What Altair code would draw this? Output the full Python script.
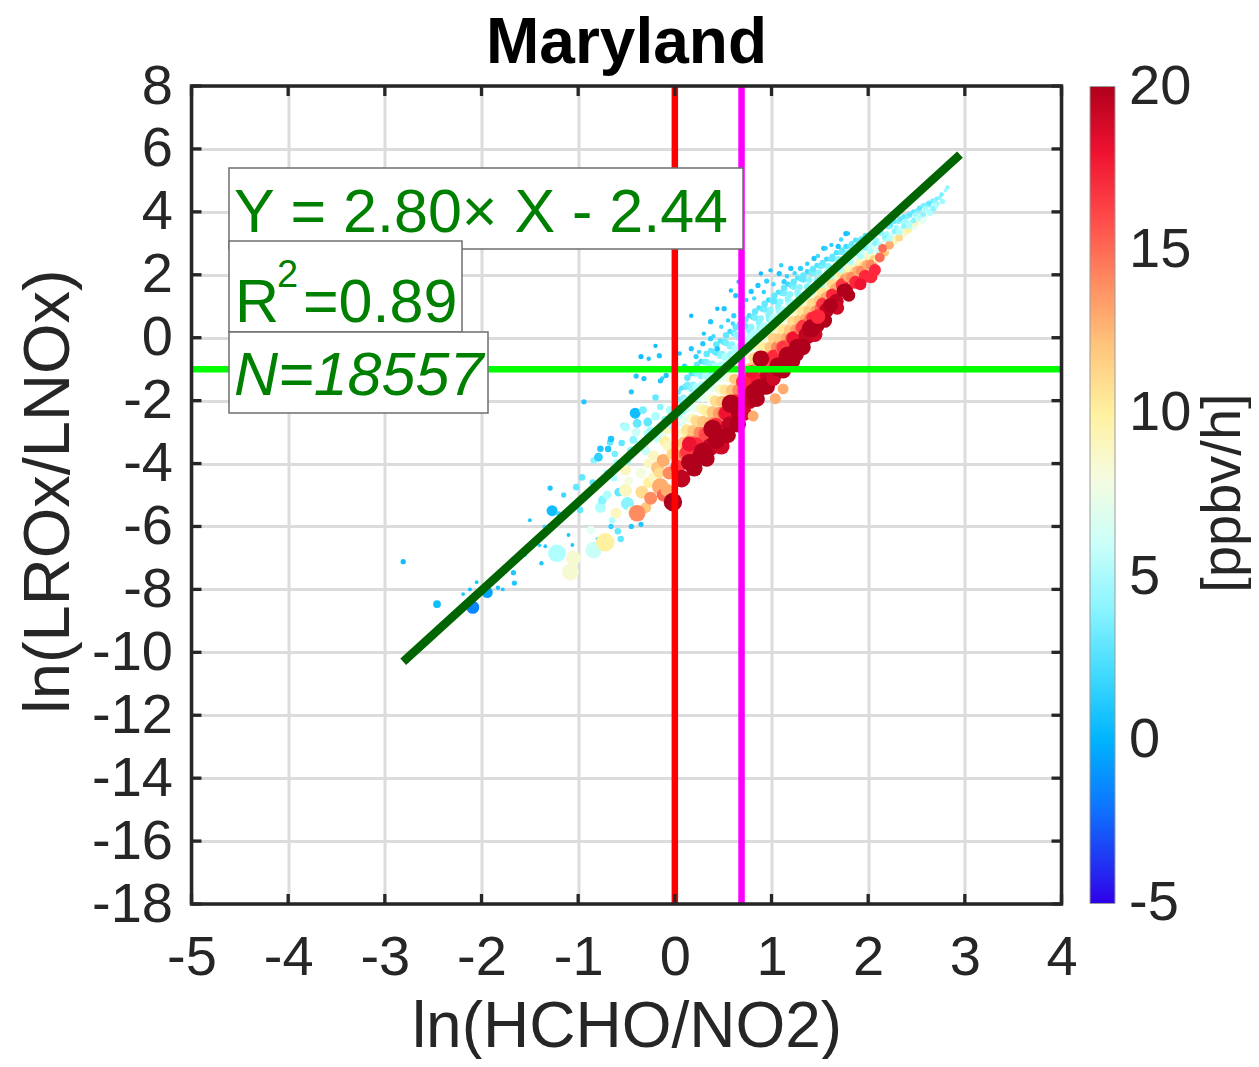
import altair as alt
import pandas as pd

FONT = "Liberation Sans"
INK = "#262626"
TXT_GREEN = "#008000"

# ---- data: (ln(HCHO/NO2), ln(LROx/LNOx), rate [ppbv/h], marker weight)
far_left = [
    (-2.81, -7.12, 0.5, 1.5), (-2.46, -8.47, 0.5, 2.5), (-2.19, -8.15, 1.0, 1.0),
    (-2.12, -8.00, 0.5, 1.0), (-2.09, -8.57, -1.5, 5.0), (-2.05, -7.77, 1.0, 1.0),
    (-1.94, -8.10, -0.5, 4.0), (-1.83, -7.95, 1.0, 1.2), (-1.78, -8.00, 1.0, 1.0),
    (-1.72, -7.20, 1.0, 1.0), (-1.67, -7.47, 1.0, 1.5), (-1.66, -7.80, 1.0, 1.5),
    (-1.55, -6.90, 1.0, 1.0), (-1.40, -6.60, 1.5, 1.0), (-1.38, -7.17, 1.0, 1.2),
    (-1.34, -6.63, 1.0, 1.0), (-1.50, -5.80, 1.0, 1.0),
]

left_cloud = [
    (-1.29, -4.78, 1.0, 1.5), (-1.27, -5.50, 0.5, 4.0), (-1.22, -6.85, 5.0, 7.5),
    (-1.15, -5.00, 2.0, 1.5), (-1.20, -5.60, 2.0, 1.5), (-1.35, -6.00, 2.0, 1.0),
    (-1.10, -6.27, 1.0, 1.0), (-1.06, -6.59, 1.0, 1.0), (-1.05, -7.00, 8.5, 6.0),
    (-1.08, -7.45, 8.5, 7.0), (-1.02, -4.75, 3.0, 2.0), (-0.98, -5.48, 3.0, 2.0),
    (-0.96, -4.44, 3.0, 2.0), (-0.94, -2.04, 1.0, 1.5), (-0.90, -5.00, 4.0, 2.0),
    (-0.87, -6.12, 7.0, 3.0), (-0.85, -4.60, 3.0, 2.0), (-0.84, -6.75, 6.0, 7.0),
    (-0.84, -3.90, 4.0, 2.0), (-0.80, -6.40, 2.0, 1.0), (-0.79, -3.80, 1.5, 3.0),
    (-0.77, -3.53, 1.0, 2.0), (-0.77, -5.39, 5.0, 4.0), (-0.75, -5.16, 4.0, 3.0),
    (-0.72, -6.50, 10.0, 8.0), (-0.70, -4.30, 4.0, 2.0), (-0.70, -5.00, 5.0, 3.0),
    (-0.69, -3.54, 1.0, 2.0), (-0.67, -3.33, 3.0, 2.0), (-0.66, -3.22, 1.0, 2.0),
    (-0.66, -6.00, 1.5, 1.5), (-0.65, -5.80, 5.0, 2.0), (-0.63, -4.47, 5.0, 2.0),
    (-0.61, -5.58, 9.0, 4.0), (-0.62, -3.70, 3.5, 2.0), (-0.60, -4.00, 5.0, 3.0),
    (-0.59, -6.15, 3.0, 2.0), (-0.58, -4.91, 3.0, 3.0), (-0.56, -6.40, 3.0, 2.0),
    (-0.55, -3.35, 3.0, 2.0), (-0.53, -2.80, 4.0, 2.0), (-0.51, -2.84, 5.0, 3.0),
    (-0.51, -4.20, 9.0, 4.0), (-0.51, -4.85, 9.0, 5.0), (-0.50, -3.90, 4.0, 3.0),
    (-0.49, -5.27, 4.0, 5.0), (-0.48, -4.55, 8.0, 3.0), (-0.45, -3.60, 4.0, 3.0),
    (-0.45, -5.50, 8.0, 3.0), (-0.45, -6.00, 1.0, 1.5), (-0.43, -3.25, 4.0, 2.5),
    (-0.41, -2.40, 0.5, 4.0), (-0.40, -3.00, 6.0, 3.0), (-0.39, -2.72, 3.0, 3.0),
    (-0.36, -3.42, 5.0, 3.0), (-0.35, -4.30, 8.0, 4.0), (-0.35, -5.93, 1.0, 1.5),
    (-0.34, -4.91, 11.0, 5.0), (-0.33, -2.30, 3.5, 2.5), (-0.30, -3.60, 6.0, 3.0),
    (-0.30, -5.40, 12.0, 4.0), (-0.28, -2.68, 3.0, 3.0), (-0.28, -3.04, 5.0, 3.0),
    (-0.28, -4.00, 9.0, 3.0), (-0.27, -4.60, 10.0, 4.0), (-0.25, -2.95, 4.5, 2.5),
    (-0.25, -5.10, 14.0, 5.0), (-0.22, -3.76, 9.0, 4.0), (-0.22, -4.45, 9.0, 4.0),
    (-0.20, -2.50, 5.0, 3.0), (-0.20, -1.90, 3.0, 2.0), (-0.18, -3.20, 6.0, 3.0),
    (-0.18, -4.13, 12.0, 5.0), (-0.16, -4.30, 11.0, 4.0), (-0.15, -2.20, 4.0, 2.0),
    (-0.15, -4.73, 13.0, 7.0), (-0.12, -3.00, 7.0, 3.0), (-0.12, -3.90, 13.0, 5.0),
    (-0.12, -5.00, 15.0, 5.0), (-0.10, -2.60, 4.0, 2.5), (-0.10, -3.30, 10.0, 4.0),
    (-0.08, -4.85, 13.0, 5.0), (-0.07, -2.90, 9.0, 4.0), (-0.07, -3.44, 9.0, 4.0),
    (-0.06, -4.30, 14.0, 5.0), (-0.05, -2.30, 5.0, 3.0), (-0.04, -2.75, 6.0, 3.0),
    (-0.03, -3.70, 11.0, 4.0), (-0.39, -5.58, 14.0, 7.0), (-0.02, -5.22, 20.0, 8.0),
    (0.00, -1.94, 8.0, 3.0),
]

band_a = [
    (0.07, -1.60, 2.5, 1.5), (0.03, -1.96, 3.5, 2), (0.08, -2.32, 4.5, 2.5), (0.04, -2.68, 6, 3),
    (0.07, -3.04, 8.5, 3.5), (0.02, -3.40, 10.5, 4), (0.06, -3.76, 13, 5), (0.03, -4.12, 16.5, 6),
    (0.07, -4.48, 19.5, 7.5),
    (0.11, -1.56, 3, 2), (0.09, -1.91, 4, 2), (0.11, -2.27, 5, 2.5), (0.09, -2.62, 7, 3),
    (0.11, -2.98, 9.5, 3.5), (0.09, -3.34, 12, 4.5), (0.11, -3.70, 15, 5.5),
    (0.17, -1.15, 2.5, 1.5), (0.13, -1.50, 3.5, 2), (0.18, -1.86, 4.5, 2.5), (0.14, -2.21, 6, 3),
    (0.17, -2.57, 8.5, 3.5), (0.12, -2.92, 10.5, 4), (0.16, -3.27, 13, 5), (0.13, -3.63, 16.5, 6),
    (0.17, -3.98, 19.5, 7.5),
    (0.21, -1.13, 3, 2), (0.19, -1.50, 4, 2), (0.21, -1.87, 5, 2.5), (0.19, -2.23, 7, 3),
    (0.21, -2.60, 9.5, 3.5), (0.19, -2.96, 12, 4.5), (0.21, -3.33, 15, 5.5),
    (0.27, -0.75, 2, 1.5), (0.23, -1.13, 4, 2), (0.28, -1.51, 5, 2.5), (0.24, -1.88, 5.5, 3),
    (0.27, -2.26, 9, 3.5), (0.22, -2.64, 11, 4), (0.26, -3.02, 14, 5), (0.23, -3.40, 17, 6),
    (0.27, -3.77, 20, 7.5),
    (0.31, -0.77, 3, 2), (0.29, -1.15, 4, 2), (0.31, -1.53, 5, 2.5), (0.29, -1.91, 7, 3),
    (0.31, -2.29, 9.5, 3.5), (0.29, -2.67, 12, 4.5), (0.31, -3.05, 15, 5.5),
    (0.37, -0.40, 3, 1.5), (0.33, -0.78, 3.5, 2), (0.38, -1.17, 4, 2.5), (0.34, -1.55, 6.5, 3),
    (0.37, -1.94, 8, 3.5), (0.32, -2.32, 10, 4), (0.36, -2.70, 12.5, 5), (0.33, -3.09, 16, 6),
    (0.37, -3.47, 19.5, 7.5),
    (0.41, -0.44, 3, 2), (0.39, -0.83, 4, 2), (0.41, -1.21, 5, 2.5), (0.39, -1.59, 7, 3),
    (0.41, -1.98, 9.5, 3.5), (0.39, -2.36, 12, 4.5), (0.41, -2.75, 15, 5.5),
    (0.47, -0.10, 2.5, 1.5), (0.43, -0.48, 3, 2), (0.48, -0.87, 5, 2.5), (0.44, -1.25, 6, 3),
    (0.47, -1.64, 9, 3.5), (0.42, -2.02, 11, 4), (0.46, -2.40, 13.5, 5), (0.43, -2.79, 17, 6),
    (0.47, -3.17, 20, 7.5),
    (0.51, -0.14, 3, 2), (0.49, -0.52, 4, 2), (0.51, -0.90, 5, 2.5), (0.49, -1.27, 7, 3),
    (0.51, -1.65, 9.5, 3.5), (0.49, -2.03, 12, 4.5), (0.51, -2.41, 15, 5.5),
]

band_b = [
    (0.57, 0.20, 2, 1.5), (0.53, -0.17, 3.5, 2), (0.58, -0.54, 4.5, 2.5), (0.54, -0.92, 5.5, 3),
    (0.57, -1.29, 8.5, 3.5), (0.52, -1.66, 10.5, 4), (0.56, -2.03, 13, 5), (0.53, -2.40, 18, 6),
    (0.57, -2.78, 19.5, 7.5),
    (0.61, 0.14, 3, 2), (0.59, -0.22, 4, 2), (0.61, -0.58, 5, 2.5), (0.59, -0.95, 7, 3),
    (0.61, -1.31, 9.5, 3.5), (0.59, -1.67, 12, 4.5), (0.61, -2.03, 15, 5.5),
    (0.67, 0.45, 2.5, 1.5), (0.63, 0.10, 4, 2), (0.68, -0.26, 4.5, 2.5), (0.64, -0.61, 6.5, 3),
    (0.67, -0.97, 9, 3.5), (0.62, -1.32, 12, 4), (0.66, -1.67, 14, 5), (0.63, -2.03, 17, 6),
    (0.67, -2.38, 20, 7.5),
    (0.71, 0.40, 3, 2), (0.69, 0.06, 4, 2), (0.71, -0.29, 5, 2.5), (0.69, -0.63, 7, 3),
    (0.71, -0.98, 9.5, 3.5), (0.69, -1.32, 12, 4.5), (0.71, -1.67, 15, 5.5),
    (0.77, 0.70, 2, 1.5), (0.73, 0.36, 3, 2), (0.78, 0.03, 5, 2.5), (0.74, -0.31, 6, 3),
    (0.77, -0.64, 8, 3.5), (0.72, -0.98, 10.5, 4), (0.76, -1.32, 13, 5), (0.73, -1.65, 16.5, 6),
    (0.77, -1.99, 19.5, 7.5),
    (0.81, 0.66, 3, 2), (0.79, 0.34, 4, 2), (0.81, 0.01, 5, 2.5), (0.79, -0.32, 7, 3),
    (0.81, -0.65, 9.5, 3.5), (0.79, -0.97, 12, 4.5), (0.81, -1.30, 15, 5.5),
    (0.87, 0.95, 2.5, 1.5), (0.83, 0.63, 3.5, 2), (0.88, 0.31, 4.5, 2.5), (0.84, 0.00, 5.5, 3),
    (0.87, -0.32, 9, 3.5), (0.82, -0.64, 11, 4), (0.86, -0.96, 13.5, 5), (0.83, -1.28, 17.5, 6),
    (0.87, -1.59, 20, 7.5),
    (0.91, 0.92, 3, 2), (0.89, 0.61, 4, 2), (0.91, 0.30, 5, 2.5), (0.89, -0.01, 7, 3),
    (0.91, -0.32, 9.5, 3.5), (0.89, -0.62, 12, 4.5), (0.91, -0.93, 15, 5.5),
    (0.97, 1.20, 2, 1.5), (0.93, 0.90, 3.5, 2), (0.98, 0.60, 4, 2.5), (0.94, 0.30, 6, 3),
    (0.97, 0.00, 8.5, 3.5), (0.92, -0.30, 10, 4), (0.96, -0.60, 13, 5), (0.93, -0.90, 16, 6),
    (0.97, -1.20, 19.5, 7.5),
    (1.01, 1.18, 3, 2), (0.99, 0.88, 4, 2), (1.01, 0.58, 5, 2.5), (0.99, 0.28, 7, 3),
    (1.01, -0.01, 9.5, 3.5), (0.99, -0.31, 12, 4.5), (1.01, -0.61, 15, 5.5),
]

band_c = [
    (1.07, 1.45, 2.5, 1.5), (1.03, 1.16, 3, 2), (1.08, 0.86, 4.5, 2.5), (1.04, 0.57, 6.5, 3),
    (1.07, 0.27, 9, 3.5), (1.02, -0.02, 11.5, 4), (1.06, -0.31, 14, 5), (1.03, -0.61, 17, 6),
    (1.07, -0.90, 20, 7.5),
    (1.11, 1.43, 3, 2), (1.09, 1.14, 4, 2), (1.11, 0.85, 5, 2.5), (1.09, 0.56, 7, 3),
    (1.11, 0.27, 9.5, 3.5), (1.09, -0.03, 12, 4.5), (1.11, -0.32, 15, 5.5),
    (1.17, 1.70, 2, 1.5), (1.13, 1.41, 3.5, 2), (1.18, 1.12, 5, 2.5), (1.14, 0.84, 6, 3),
    (1.17, 0.55, 8, 3.5), (1.12, 0.26, 10.5, 4), (1.16, -0.03, 13, 5), (1.13, -0.32, 16.5, 6),
    (1.17, -0.60, 19.5, 7.5),
    (1.21, 1.66, 3, 2), (1.19, 1.38, 4, 2), (1.21, 1.10, 5, 2.5), (1.19, 0.81, 7, 3),
    (1.21, 0.53, 9.5, 3.5), (1.19, 0.25, 12, 4.5), (1.21, -0.03, 15, 5.5),
    (1.27, 1.90, 2.5, 1.5), (1.23, 1.62, 3.5, 2), (1.28, 1.35, 4.5, 2.5), (1.24, 1.07, 5.5, 3),
    (1.27, 0.80, 9, 3.5), (1.22, 0.52, 11, 4), (1.26, 0.24, 13.5, 5), (1.23, -0.03, 18, 6),
    (1.27, -0.31, 20, 7.5),
    (1.31, 1.87, 3, 2), (1.29, 1.60, 4, 2), (1.31, 1.34, 5, 2.5), (1.29, 1.08, 7, 3),
    (1.31, 0.81, 9.5, 3.5), (1.29, 0.55, 12, 4.5), (1.31, 0.28, 15, 5.5),
    (1.37, 2.10, 2, 1.5), (1.33, 1.85, 3, 2), (1.38, 1.60, 4.5, 2.5), (1.34, 1.34, 6, 3),
    (1.37, 1.09, 8.5, 3.5), (1.32, 0.84, 10.5, 4), (1.36, 0.59, 13, 5), (1.33, 0.34, 16.5, 6),
    (1.37, 0.08, 19.5, 7.5),
    (1.41, 2.08, 3, 2), (1.39, 1.83, 4, 2), (1.41, 1.58, 5, 2.5), (1.39, 1.34, 7, 3),
    (1.41, 1.09, 9.5, 3.5), (1.39, 0.85, 12, 4.5), (1.41, 0.60, 15, 5.5),
    (1.47, 2.30, 2.5, 1.5), (1.43, 2.06, 3.5, 2), (1.48, 1.82, 4, 2), (1.44, 1.58, 6, 2.5),
    (1.47, 1.34, 9, 3), (1.42, 1.10, 11, 3.5), (1.46, 0.86, 13.5, 4), (1.43, 0.62, 17, 5),
    (1.47, 0.38, 20, 6),
    (1.51, 2.29, 3, 2), (1.49, 2.07, 4, 2), (1.51, 1.84, 5, 2), (1.49, 1.62, 7, 2.5),
    (1.51, 1.40, 9.5, 3), (1.49, 1.18, 12, 4), (1.51, 0.96, 15, 4.5),
]

band_d = [
    (1.57, 2.50, 2, 1.5), (1.53, 2.30, 3.5, 2), (1.58, 2.09, 4.5, 2), (1.54, 1.89, 5.5, 2.5),
    (1.57, 1.68, 8.5, 3), (1.52, 1.48, 10.5, 3.5), (1.56, 1.28, 13, 4), (1.53, 1.07, 16.5, 5),
    (1.57, 0.87, 19.5, 6),
    (1.61, 2.50, 3, 1.5), (1.59, 2.27, 4, 2), (1.61, 2.04, 5, 2), (1.59, 1.81, 7, 2.5),
    (1.61, 1.58, 10, 3), (1.59, 1.35, 13, 3.5),
    (1.67, 2.70, 2.5, 1.5), (1.63, 2.51, 3, 2), (1.68, 2.32, 4.5, 2), (1.64, 2.12, 6, 2.5),
    (1.67, 1.93, 9, 3), (1.62, 1.74, 11, 3.5), (1.66, 1.55, 13, 4), (1.63, 1.36, 17, 5),
    (1.67, 1.16, 19.5, 6),
    (1.71, 2.71, 3, 1.5), (1.69, 2.49, 4, 2), (1.71, 2.28, 5, 2), (1.69, 2.07, 7, 2.5),
    (1.71, 1.85, 10, 3), (1.69, 1.64, 13, 3.5),
    (1.77, 2.90, 2, 1.5), (1.73, 2.73, 3.5, 2), (1.78, 2.55, 4, 2), (1.74, 2.38, 5.5, 2.5),
    (1.77, 2.20, 8, 3), (1.72, 2.03, 10.5, 3.5), (1.76, 1.86, 13.5, 4), (1.73, 1.68, 16.5, 5),
    (1.77, 1.51, 20, 5.5),
    (1.81, 2.91, 3, 1.5), (1.79, 2.71, 4, 2), (1.81, 2.52, 5, 2), (1.79, 2.32, 7, 2.5),
    (1.81, 2.12, 10, 3), (1.79, 1.92, 13, 3.5),
    (1.87, 3.10, 2.5, 1.5), (1.83, 2.93, 3.5, 1.5), (1.88, 2.76, 4.5, 2), (1.84, 2.60, 5.5, 2),
    (1.87, 2.43, 7, 2.5), (1.82, 2.26, 9, 3), (1.86, 2.09, 11.5, 3.5), (1.83, 1.92, 14, 4),
    (1.87, 1.76, 17, 5),
    (1.91, 3.10, 3, 1.5), (1.89, 2.90, 4, 2), (1.91, 2.71, 5, 2), (1.89, 2.52, 7, 2.5),
    (1.91, 2.33, 10, 3), (1.89, 2.13, 13, 3.5),
    (1.97, 3.25, 2.5, 1.5), (1.93, 3.09, 3.5, 1.5), (1.98, 2.93, 4.5, 2), (1.94, 2.76, 5.5, 2),
    (1.97, 2.60, 7, 2.5), (1.92, 2.44, 9, 3), (1.96, 2.28, 11.5, 3.5), (1.93, 2.12, 14, 4),
    (1.97, 1.95, 17, 5),
    (2.01, 3.25, 3, 1.5), (1.99, 3.06, 4, 2), (2.01, 2.88, 5, 2), (1.99, 2.69, 7, 2.5),
    (2.01, 2.51, 10, 3), (1.99, 2.32, 13, 3.5),
]

band_e = [
    (2.07, 3.40, 2.5, 1.5), (2.03, 3.24, 3.5, 1.5), (2.08, 3.09, 4.5, 2), (2.04, 2.93, 5.5, 2),
    (2.07, 2.78, 7, 2.5), (2.02, 2.62, 9, 3), (2.06, 2.46, 11.5, 3.5), (2.03, 2.31, 14, 4),
    (2.07, 2.15, 17, 4.5),
    (2.11, 3.36, 3.5, 1.5), (2.09, 3.07, 4.5, 1.5), (2.11, 2.77, 6, 2), (2.09, 2.48, 9, 2),
    (2.17, 3.55, 3, 1.5), (2.13, 3.34, 4, 2), (2.18, 3.13, 5, 2), (2.14, 2.92, 8, 2.5),
    (2.17, 2.71, 12, 3), (2.12, 2.55, 15, 3.5),
    (2.21, 3.53, 3.5, 1.5), (2.19, 3.30, 4.5, 1.5), (2.21, 3.07, 6, 2), (2.19, 2.84, 9, 2),
    (2.27, 3.70, 3, 1.5), (2.23, 3.54, 4, 1.5), (2.28, 3.38, 5, 2), (2.24, 3.22, 6, 2),
    (2.27, 3.06, 9, 2.5), (2.22, 2.94, 13, 3),
    (2.31, 3.70, 3.5, 1.5), (2.29, 3.51, 4.5, 1.5), (2.31, 3.33, 6, 2), (2.29, 3.14, 9, 2),
    (2.37, 3.85, 3, 1.5), (2.33, 3.71, 4, 1.5), (2.38, 3.57, 4.5, 2), (2.34, 3.43, 6, 2),
    (2.37, 3.29, 8, 2), (2.32, 3.18, 11, 2.5),
    (2.41, 3.86, 3.5, 1.5), (2.39, 3.70, 4.5, 1.5), (2.41, 3.54, 6, 2), (2.39, 3.37, 9, 2),
    (2.47, 4.00, 3, 1.5), (2.43, 3.88, 4, 1.5), (2.48, 3.76, 4.5, 1.5), (2.44, 3.64, 5, 2),
    (2.47, 3.52, 7, 2), (2.42, 3.43, 10, 2),
    (2.51, 4.04, 3.5, 1.5), (2.49, 3.91, 4.5, 1.5), (2.51, 3.77, 6, 2), (2.49, 3.63, 9, 2),
    (2.57, 4.20, 3.5, 1.5), (2.53, 4.08, 4, 1.5), (2.58, 3.95, 4.5, 2), (2.54, 3.83, 5, 2),
    (2.57, 3.72, 7, 2),
    (2.61, 4.23, 3.5, 1.5), (2.59, 4.12, 4.5, 1.5), (2.61, 4.01, 5, 2), (2.59, 3.89, 7, 2),
    (2.67, 4.35, 3.5, 1.5), (2.63, 4.22, 4, 1.5), (2.68, 4.09, 4.5, 1.5), (2.64, 3.97, 5, 2),
    (2.71, 4.42, 3.5, 1.2), (2.69, 4.34, 4, 1.2), (2.71, 4.25, 4.5, 1.5), (2.69, 4.17, 5, 1.5),
    (2.76, 4.55, 3.5, 1.2), (2.74, 4.45, 4, 1.2), (2.77, 4.33, 4.5, 1.5),
    (2.82, 4.78, 4, 1), (2.80, 4.68, 4.5, 1),
]

cyan_fill = [
    (0.03, -1.72, 3, 2), (0.08, -2.05, 4, 2), (0.04, -2.45, 5, 2.5),
    (0.13, -1.27, 3, 2), (0.17, -1.62, 4, 2), (0.12, -1.98, 5, 2.5),
    (0.23, -0.86, 3, 2), (0.27, -1.22, 4, 2), (0.22, -1.57, 5, 2.5),
    (0.33, -0.52, 3, 2), (0.37, -0.87, 4, 2), (0.32, -1.22, 5, 2.5),
    (0.43, -0.22, 3, 2), (0.47, -0.57, 4, 2), (0.42, -0.92, 5, 2.5),
    (0.53, 0.08, 3, 2), (0.57, -0.27, 4, 2), (0.52, -0.62, 5, 2.5),
    (0.63, 0.33, 3, 2), (0.67, -0.02, 4, 2), (0.62, -0.37, 5, 2.5),
    (0.73, 0.58, 3, 2), (0.77, 0.23, 4, 2), (0.72, -0.12, 5, 2.5),
    (0.83, 0.83, 3, 2), (0.87, 0.48, 4, 2), (0.82, 0.13, 5, 2.5),
    (0.93, 1.08, 3, 2), (0.97, 0.73, 4, 2), (0.92, 0.38, 5, 2.5),
    (1.03, 1.33, 3, 2), (1.07, 0.98, 4, 2), (1.02, 0.63, 5, 2.5),
    (1.13, 1.58, 3, 2), (1.17, 1.23, 4, 2), (1.12, 0.88, 5, 2.5),
    (1.23, 1.78, 3, 2), (1.27, 1.43, 4, 2), (1.22, 1.08, 5, 2.5),
    (1.33, 1.98, 3, 2), (1.37, 1.63, 4, 2), (1.32, 1.28, 5, 2.5),
    (1.43, 2.18, 3, 2), (1.47, 1.83, 4, 2), (1.42, 1.48, 5, 2.5),
    (1.53, 2.38, 3, 1.8), (1.57, 2.03, 4, 1.8), (1.52, 1.68, 5, 2),
    (1.63, 2.58, 3, 1.8), (1.67, 2.23, 4, 1.8), (1.62, 1.95, 5, 2),
    (1.73, 2.78, 3, 1.8), (1.77, 2.45, 4, 1.8), (1.72, 2.15, 5, 2),
    (1.83, 3.00, 3, 1.5), (1.87, 2.68, 4, 1.5), (1.82, 2.40, 5, 1.8),
    (1.93, 3.15, 3, 1.5), (1.97, 2.85, 4, 1.5), (1.92, 2.58, 5, 1.8),
    (2.03, 3.30, 3, 1.5), (2.07, 3.00, 4, 1.5), (2.02, 2.75, 5, 1.8),
    (2.13, 3.45, 3, 1.5), (2.17, 3.20, 4, 1.5), (2.12, 2.95, 5, 1.8),
    (2.23, 3.62, 3, 1.5), (2.27, 3.38, 4, 1.5), (2.22, 3.15, 5, 1.8),
    (2.33, 3.78, 3, 1.5), (2.37, 3.55, 4, 1.5), (2.32, 3.35, 5, 1.8),
    (2.43, 3.93, 3, 1.5), (2.47, 3.72, 4, 1.5), (2.42, 3.55, 5, 1.8),
    (2.53, 4.12, 3, 1.5), (2.57, 3.92, 4, 1.5),
    (2.63, 4.28, 3, 1.5), (2.67, 4.10, 4, 1.5),
]

upper_scatter = [
    (-0.45, -1.72, 1.0, 1.5), (-0.40, -1.22, 1.0, 1.5), (-0.35, -0.60, 0.5, 1.5),
    (-0.32, -1.30, 1.0, 1.5), (-0.27, -0.67, 1.0, 1.2), (-0.20, -0.26, 0.5, 1.2),
    (-0.16, -0.57, 1.0, 1.5), (-0.15, -1.37, 1.0, 1.5), (-0.13, -1.30, 1.5, 1.2),
    (-0.09, -1.20, 1.0, 1.5), (0.05, -0.50, 1.0, 1.2), (0.10, -0.90, 1.5, 1.5),
    (0.12, -0.95, 2.0, 1.2), (0.17, 0.70, 0.5, 1.2), (0.17, -0.35, 1.0, 1.5),
    (0.22, -0.60, 1.5, 1.5), (0.25, -0.45, 2.0, 1.2), (0.29, -0.19, 1.0, 1.5),
    (0.30, 0.13, 1.0, 1.2), (0.37, 0.51, 1.0, 1.5), (0.37, -0.03, 1.5, 1.5),
    (0.40, 0.05, 2.0, 1.2), (0.44, 0.92, 0.5, 1.2), (0.44, -0.35, 1.0, 1.5),
    (0.48, 0.35, 2.0, 1.2), (0.51, 0.92, 1.0, 1.5), (0.55, 0.55, 1.5, 1.2),
    (0.58, 1.50, 1.0, 1.2), (0.60, 0.45, 2.0, 1.2), (0.61, 0.70, 1.5, 1.5),
    (0.63, 1.34, 1.0, 1.5), (0.66, 1.78, 0.5, 1.2), (0.68, 0.95, 2.0, 1.2),
    (0.70, 1.00, 1.5, 1.5), (0.74, 1.20, 1.5, 1.2), (0.79, 1.47, 1.0, 1.5),
    (0.82, 1.25, 2.0, 1.2), (0.86, 1.66, 1.0, 1.5), (0.89, 2.04, 0.5, 1.2),
    (0.92, 1.45, 1.5, 1.2), (0.95, 1.80, 1.5, 1.5), (0.99, 2.14, 1.0, 1.2),
    (1.02, 1.70, 2.0, 1.2), (1.08, 2.04, 1.0, 1.5), (1.10, 2.30, 1.5, 1.2),
    (1.13, 1.78, 1.5, 1.5), (1.16, 1.95, 1.5, 1.2), (1.20, 2.20, 1.0, 1.5),
    (1.24, 2.05, 2.0, 1.2), (1.30, 2.20, 1.5, 1.5), (1.37, 2.35, 1.5, 1.2),
    (1.44, 2.52, 1.0, 1.5), (1.48, 2.60, 2.0, 1.2), (1.54, 2.84, 1.0, 1.5),
    (1.56, 2.84, 1.5, 1.2), (1.62, 2.95, 1.5, 1.2), (1.69, 2.90, 1.0, 1.5),
    (1.72, 3.12, 2.0, 1.2), (1.77, 3.31, 0.5, 1.5), (1.79, 3.31, 1.0, 1.2),
]

red_edge = [
    (0.20, -4.15, 20, 7), (0.33, -3.85, 20, 6.5), (0.48, -3.45, 19, 7), (0.55, -3.10, 20, 6.5),
    (0.65, -2.75, 20, 7), (0.72, -2.40, 19, 6), (0.85, -1.95, 20, 6.5), (0.95, -1.55, 20, 7),
    (1.02, -1.30, 19, 6), (1.12, -1.05, 20, 6.5), (1.22, -0.75, 20, 6), (1.32, -0.30, 20, 7),
    (1.45, 0.10, 19, 6), (1.55, 0.55, 20, 6), (1.68, 0.95, 19, 5.5), (1.80, 1.35, 20, 5),
    (1.92, 1.70, 18, 4.5),
]

red_outliers = [
    (0.15, -3.38, 18.0, 6.0), (0.15, -3.96, 20.0, 7.0), (0.29, -3.63, 20.0, 8.0),
    (0.39, -2.90, 20.0, 8.0), (0.43, -3.28, 20.0, 7.0), (0.58, -2.10, 20.0, 8.0),
    (0.71, -1.40, 17.0, 6.0), (0.79, -1.08, 18.0, 5.0), (0.81, -1.73, 20.0, 7.0),
    (0.81, -2.49, 13.0, 4.0), (0.89, -0.67, 20.0, 7.0), (1.04, -1.94, 13.0, 4.0),
    (1.06, -0.99, 20.0, 6.0), (1.12, -1.63, 13.0, 4.0), (1.17, -0.57, 20.0, 8.0),
    (1.25, -0.51, 20.0, 7.0), (1.41, 0.29, 20.0, 8.0), (1.48, 0.67, 17.0, 6.0),
    (1.61, 1.02, 20.0, 6.0), (1.74, 1.50, 20.0, 5.0), (2.03, 1.94, 17.0, 5.0),
    (2.15, 2.84, 15.0, 3.0),
]

# regression line end points, reference lines, ticks
fit_x = [-2.81, 2.95]
fit_y = [-10.30, 5.82]
red_x = 0.0
magenta_x = 0.69
green_y = -1.0
x_ticks = [-5, -4, -3, -2, -1, 0, 1, 2, 3, 4]
y_ticks = [-18, -16, -14, -12, -10, -8, -6, -4, -2, 0, 2, 4, 6, 8]
cbar_ticks = [-5, 0, 5, 10, 15, 20]
color_stops = [-5.02, -2.5, 0, 2.5, 5, 7.5, 10, 12.5, 15, 17.5, 20.02]
color_hex = ["#3000e8", "#1068ff", "#00b4ff", "#50e4ff", "#b0ffff", "#f2fff0",
             "#fff1a0", "#ffbd74", "#ff6c55", "#ff1636", "#b0001c"]

all_pts = (far_left + left_cloud + band_a + band_b + band_c + band_d + band_e
           + cyan_fill + upper_scatter + red_edge + red_outliers)
pts = pd.DataFrame(all_pts, columns=["x", "y", "v", "w"])
fit = pd.DataFrame({"x": fit_x, "y": fit_y})
one = pd.DataFrame({"k": [0]})

W, H = 870, 818
XT = "ln(HCHO/NO2)"
YT = "ln(LROx/LNOx)"
xs = alt.Scale(domain=[-5, 4], nice=False, zero=False)
ys = alt.Scale(domain=[-18, 8], nice=False, zero=False)
neg_expr = "datum.value < 0 ? '-' + abs(datum.value) : '' + datum.value"

scatter = alt.Chart(pts).mark_circle(opacity=1, strokeWidth=0).encode(
    x=alt.X("x:Q", scale=xs, title=XT, axis=alt.Axis(
        values=x_ticks, grid=True, gridColor="#dcdcdc", gridWidth=3,
        ticks=False, domain=False, labelFont=FONT, labelFontSize=56, labelColor=INK,
        labelPadding=26, labelFlush=False, labelOverlap=False, labelExpr=neg_expr,
        titleFont=FONT, titleFontSize=64, titleFontWeight="normal", titleColor=INK,
        titleBaseline="alphabetic", titleY=142)),
    y=alt.Y("y:Q", scale=ys, title=YT, axis=alt.Axis(
        values=y_ticks, grid=True, gridColor="#dcdcdc", gridWidth=3,
        ticks=False, domain=False, labelFont=FONT, labelFontSize=56, labelColor=INK,
        labelPadding=19, labelFlush=False, labelOverlap=False, labelExpr=neg_expr,
        titleFont=FONT, titleFontSize=65, titleFontWeight="normal", titleColor=INK,
        titleBaseline="alphabetic", titleX=-123, titleY=405, titleAngle=270)),
    color=alt.Color("v:Q", scale=alt.Scale(domain=color_stops, range=color_hex, interpolate="rgb"),
                    legend=alt.Legend(orient="none", legendX=898.5, legendY=0.5, direction="vertical",
                                      title=None, values=cbar_ticks, gradientLength=817,
                                      gradientThickness=25, gradientStrokeColor="#9a9a9a",
                                      gradientStrokeWidth=1, labelFont=FONT, labelFontSize=56,
                                      labelColor=INK, labelOffset=14, labelBaseline="middle",
                                      labelOverlap=False, padding=0, labelExpr=neg_expr)),
    size=alt.Size("w:Q", scale=alt.Scale(type="pow", exponent=1.5, domain=[0, 8], range=[0, 340]),
                  legend=None),
)

hline = alt.Chart(one).mark_rule(color="#00ff00", strokeWidth=6.5).encode(
    y=alt.YDatum(green_y), x=alt.value(0), x2=alt.value(W))
vred = alt.Chart(one).mark_rule(color="#ff0000", strokeWidth=6.5).encode(
    x=alt.XDatum(red_x), y=alt.value(0), y2=alt.value(H))
vmag = alt.Chart(one).mark_rule(color="#ff00ff", strokeWidth=6.5).encode(
    x=alt.XDatum(magenta_x), y=alt.value(0), y2=alt.value(H))
fitline = alt.Chart(fit).mark_line(color="#006400", strokeWidth=8.5, strokeCap="butt").encode(
    x=alt.X("x:Q", scale=xs, title=XT), y=alt.Y("y:Q", scale=ys, title=YT))


def box(x1, x2, y1, y2):
    return alt.Chart(one).mark_rect(fill="white", stroke="#6f6f6f", strokeWidth=1.5).encode(
        x=alt.value(x1), x2=alt.value(x2), y=alt.value(y1), y2=alt.value(y2))


def label(txt, px, py, size, style="normal", color=TXT_GREEN, angle=0, align="left",
          baseline="alphabetic", weight="normal"):
    return alt.Chart(one).mark_text(text=txt, font=FONT, fontSize=size, fontStyle=style,
                                    fontWeight=weight, color=color, align=align,
                                    baseline=baseline, angle=angle).encode(
        x=alt.value(px), y=alt.value(py))


xt = pd.DataFrame({"t": x_ticks})
yt = pd.DataFrame({"t": y_ticks})
tick_b = alt.Chart(xt).mark_rule(color=INK, strokeWidth=3.3).encode(
    x=alt.X("t:Q", scale=xs, title=XT), y=alt.value(H), y2=alt.value(H - 10))
tick_t = alt.Chart(xt).mark_rule(color=INK, strokeWidth=3.3).encode(
    x=alt.X("t:Q", scale=xs, title=XT), y=alt.value(0), y2=alt.value(10))
tick_l = alt.Chart(yt).mark_rule(color=INK, strokeWidth=3.3).encode(
    y=alt.Y("t:Q", scale=ys, title=YT), x=alt.value(0), x2=alt.value(10))
tick_r = alt.Chart(yt).mark_rule(color=INK, strokeWidth=3.3).encode(
    y=alt.Y("t:Q", scale=ys, title=YT), x=alt.value(W), x2=alt.value(W - 10))
border = alt.Chart(one).mark_rect(fillOpacity=0, stroke=INK, strokeWidth=3.5).encode(
    x=alt.value(0), x2=alt.value(W), y=alt.value(0), y2=alt.value(H))

layers = [
    scatter, hline, vred, vmag, fitline,
    box(37.5, 551.5, 82, 163), label("Y = 2.80\u00d7 X - 2.44", 42.5, 146, 61),
    box(37.5, 270.5, 155, 246), label("R", 43.5, 236, 61), label("2", 85.5, 201, 38),
    label("=0.89", 111.5, 236, 61),
    box(37.5, 296.5, 246, 327), label("N=18557", 42.5, 309, 61, style="italic"),
    tick_b, tick_t, tick_l, tick_r, border,
    label("Maryland", W / 2, -23, 64, color="black", align="center", weight="bold"),
    label("[ppbv/h]", 1031.5, 407, 56, color=INK, angle=270, align="center", baseline="middle"),
]

chart = alt.layer(*layers).properties(
    width=W, height=H,
    padding={"left": 183.5, "top": 78, "right": 189.5, "bottom": 155},
    autosize=alt.AutoSizeParams(type="none"),
).configure_view(stroke=None)

chart.save("out.html", embed_options={"renderer": "svg", "actions": False})
